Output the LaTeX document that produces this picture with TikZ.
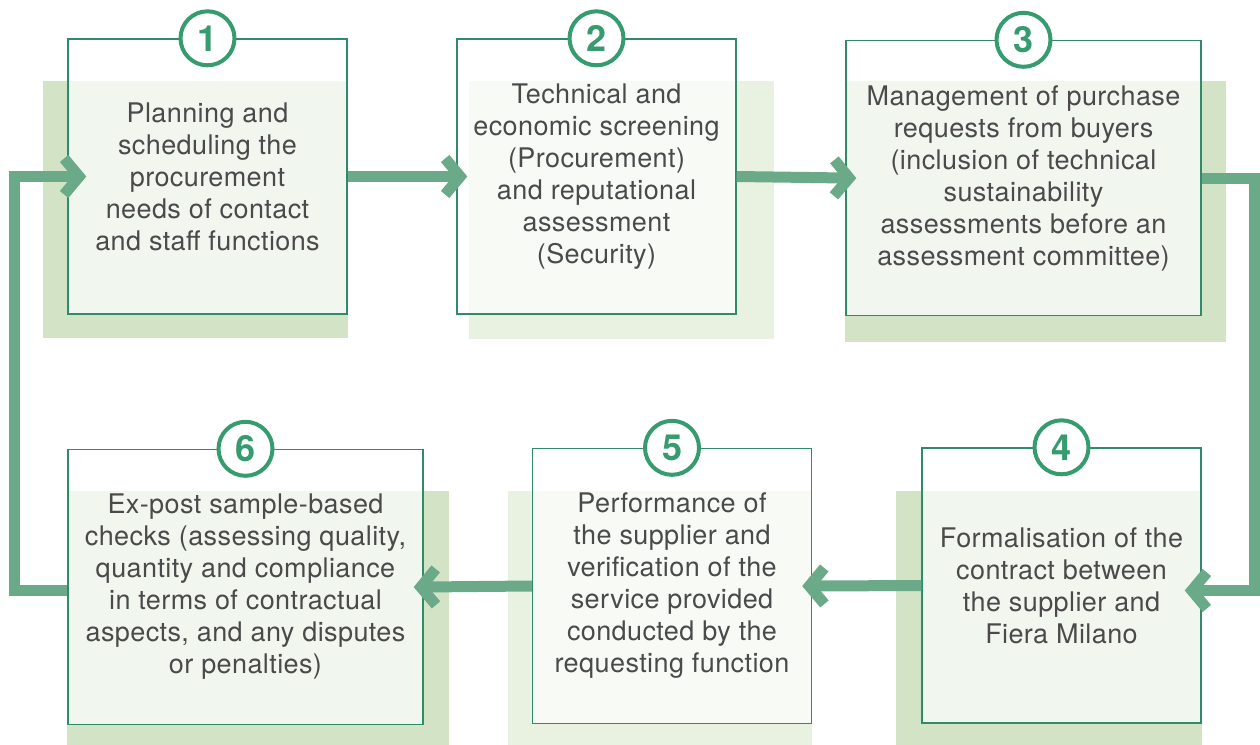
\documentclass[tikz,border=0pt]{standalone}
\usepackage{fontspec}
\setmainfont{TeX Gyre Heros}[LetterSpace=1.5]
\usetikzlibrary{arrows.meta,backgrounds,calc}
\definecolor{boxline}{HTML}{2F8C6A}
\definecolor{ringgreen}{HTML}{379B70}
\definecolor{flowgreen}{HTML}{6BAA88}
\definecolor{shadowdark}{HTML}{D3E3C6}
\definecolor{shadowlight}{HTML}{E9F1E1}
\definecolor{textgray}{HTML}{4A4A4A}
\begin{document}
\begin{tikzpicture}%
	[
	x=1pt,
	y=-1pt,
	stepbox/.style={draw=boxline, line width=1.4pt, fill=white, fill opacity=0.7, text opacity=1, text=textgray, inner sep=0pt, minimum width=279pt, minimum height=275pt, align=center, font=\fontsize{27}{32}\selectfont},
	widebox/.style={stepbox, minimum width=355pt},
	stepnum/.style={circle, draw=ringgreen, line width=4pt, fill=white, text=ringgreen, minimum size=54pt, inner sep=0pt, font=\fontsize{36}{36}\selectfont\bfseries},
	flow/.style={draw=flowgreen, line width=11pt, -{Straight Barb[length=15pt, width=36pt]}},
	darkshadow/.style={fill=shadowdark},
	lightshadow/.style={fill=shadowlight}]

\useasboundingbox (0,0) rectangle (1260,744);

\coordinate (lloop) at (14,0);
\coordinate (rloop) at (1254.5,0);

\node[stepbox] (b1) at (207.5,176.5) {Planning and\\scheduling the\\procurement\\needs of contact\\and staff functions};
\node[stepbox] (b2) at (596.5,176.5) {Technical and\\economic screening\\(Procurement)\\and reputational\\assessment\\(Security)};
\node[widebox] (b3) at (1023.5,178) {Management of purchase\\requests from buyers\\(inclusion of technical\\sustainability\\assessments before an\\assessment committee)};
\node[stepbox] (b4) at (1061.5,585.5) {Formalisation of the\\contract between\\the supplier and\\Fiera Milano};
\node[stepbox] (b5) at (672,586) {Performance of\\the supplier and\\verification of the\\service provided\\conducted by the\\requesting function};
\node[widebox] (b6) at (245.5,587) {Ex-post sample-based\\checks (assessing quality,\\quantity and compliance\\in terms of contractual\\aspects, and any disputes\\or penalties)};

\begin{pgfonlayer}{background}
	\fill[darkshadow] ([xshift=-24pt,yshift=-43pt]b1.north west) rectangle ([yshift=-23pt]b1.south east);
	\fill[lightshadow] ([xshift=13pt,yshift=-43pt]b2.north west) rectangle ([xshift=37pt,yshift=-24pt]b2.south east);
	\fill[darkshadow] ([yshift=-41pt]b3.north west) rectangle ([xshift=24pt,yshift=-26pt]b3.south east);
	\fill[darkshadow] ([xshift=-25pt,yshift=-44pt]b4.north west) rectangle ([yshift=-21pt]b4.south east);
	\fill[lightshadow] ([xshift=-24pt,yshift=-43pt]b5.north west) rectangle ([yshift=-21pt]b5.south east);
	\fill[darkshadow] ([yshift=-42pt]b6.north west) rectangle ([xshift=25pt,yshift=-20pt]b6.south east);
\end{pgfonlayer}

\draw[flow, shorten >=-11pt] (b1.east) -- (b2.west);
\draw[flow, shorten >=-11pt] (b2.east) -- (b3.west);
\draw[flow, shorten >=-17pt] (b3.east) -- (b3.east -| rloop) -- ([yshift=-5pt]b4.east -| rloop) -- ([yshift=-5pt]b4.east);
\draw[flow, shorten >=-10pt] (b4.west) -- (b5.east);
\draw[flow, shorten >=-10pt] (b5.west) -- (b6.east);
\draw[flow, shorten >=-19pt] ([yshift=-3pt]b6.west) -- ([yshift=-3pt]b6.west -| lloop) -- (b1.west -| lloop) -- (b1.west);

\node[stepnum] (n1) at (b1.north) {1};
\node[stepnum] (n2) at (b2.north) {2};
\node[stepnum] (n3) at (b3.north) {3};
\node[stepnum] (n4) at (b4.north) {4};
\node[stepnum] (n5) at (b5.north) {5};
\node[stepnum] (n6) at (b6.north) {6};
\end{tikzpicture}
\end{document}
